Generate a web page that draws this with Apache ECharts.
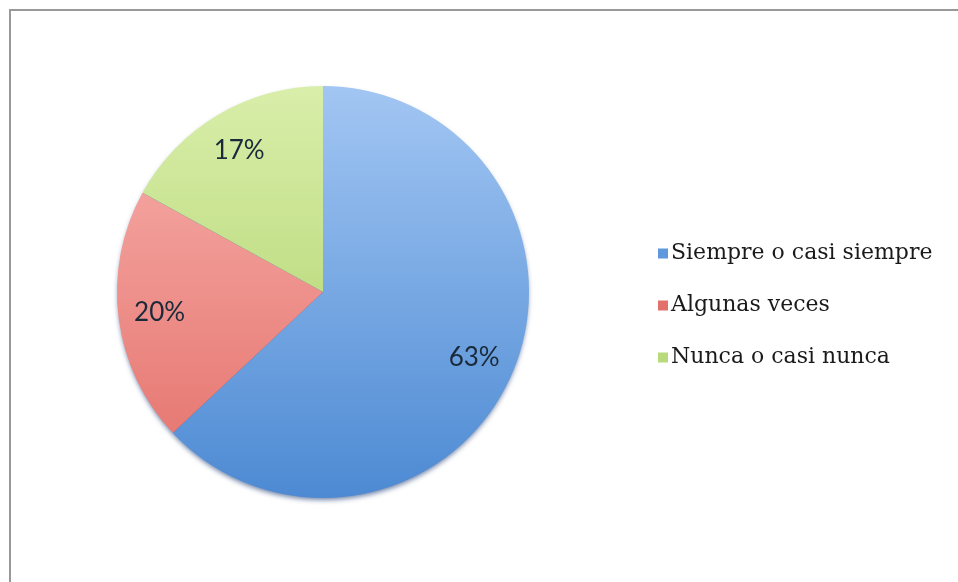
<!DOCTYPE html>
<html>
<head>
<meta charset="utf-8">
<script src="https://cdn.jsdelivr.net/npm/echarts@6/dist/echarts.min.js"></script>
<style>
html,body{margin:0;padding:0;background:#fff;}
#chart{width:958px;height:582px;}
</style>
</head>
<body>
<div id="chart"></div>
<script>
const categories = ['Siempre o casi siempre', 'Algunas veces', 'Nunca o casi nunca'];
const values = [63, 20, 17];
const colorTop = ['#a2c6f3', '#f8b2ae', '#d9eeaa'];
const colorBottom = ['#4d8ad3', '#e46f69', '#a8cf62'];
const legendColors = ['#5f98dc', '#e2716c', '#b9da7c'];

const chart = echarts.init(document.getElementById('chart'));
const cx = 323, cy = 292, R = 206;

function grad(i) {
  return new echarts.graphic.LinearGradient(0, cy - R, 0, cy + R, [
    { offset: 0, color: colorTop[i] },
    { offset: 1, color: colorBottom[i] }
  ], true);
}

const pieData = categories.map((c, i) => ({
  name: c, value: values[i],
  itemStyle: { color: grad(i) }
}));
const labelData = categories.map((c, i) => ({ name: c, value: values[i] }));
const legendData = categories.map((c, i) => ({ name: c, itemStyle: { color: legendColors[i] } }));

chart.setOption({
  backgroundColor: '#fff',
  animation: false,
  graphic: [
    { type: 'rect', shape: { x: 9, y: 9, width: 960, height: 2 }, style: { fill: '#999' }, silent: true },
    { type: 'rect', shape: { x: 9, y: 9, width: 2, height: 600 }, style: { fill: '#999' }, silent: true },
    { type: 'circle', shape: { cx: cx, cy: cy, r: R - 1 }, z: -1, silent: true,
      style: { fill: '#2f5f9f', shadowColor: 'rgba(20,50,110,0.6)', shadowBlur: 5, shadowOffsetY: 3 } }
  ],
  legend: {
    orient: 'vertical',
    left: 653,
    top: 235,
    itemWidth: 10,
    itemHeight: 10,
    itemGap: 25,
    icon: 'rect',
    data: legendData,
    textStyle: { fontFamily: 'DejaVu Serif', fontSize: 22, color: '#1a1a1a', lineHeight: 27, padding: [0, 0, 0, -2] }
  },
  series: [
    {
      type: 'pie',
      center: [cx, cy],
      radius: [0, R],
      startAngle: 90,
      clockwise: true,
      z: 2,
      label: { show: false },
      labelLine: { show: false },
      emphasis: { disabled: true },
      data: pieData
    },
    {
      type: 'pie',
      center: [cx, cy],
      radius: [R * 0.57, R],
      startAngle: 90,
      clockwise: true,
      z: 3,
      silent: true,
      legendHoverLink: false,
      itemStyle: { color: 'rgba(0,0,0,0)' },
      label: {
        show: true,
        position: 'inside',
        formatter: p => p.value + '%',
        fontFamily: 'Lato',
        fontSize: 26,
        color: '#1a2a3a'
      },
      labelLine: { show: false },
      emphasis: { disabled: true },
      data: labelData
    }
  ]
});
</script>
</body>
</html>
